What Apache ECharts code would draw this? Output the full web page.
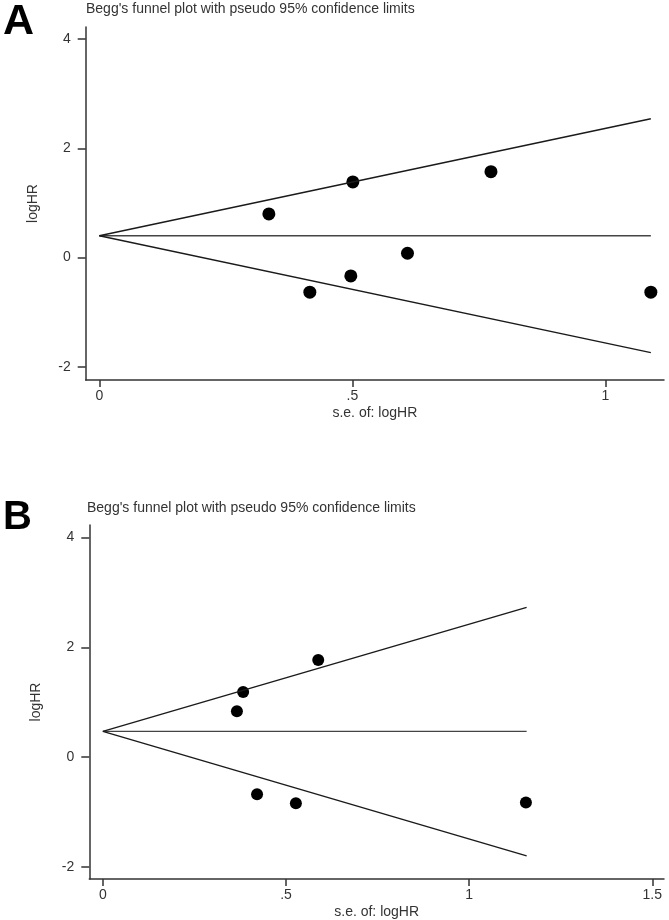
<!DOCTYPE html>
<html>
<head>
<meta charset="utf-8">
<script src="https://cdn.jsdelivr.net/npm/echarts@6/dist/echarts.min.js"></script>
<style>
html,body{margin:0;padding:0;background:#fff;}
#chart{width:669px;height:920px;}
</style>
</head>
<body>
<div id="chart"></div>
<script>
// ---- Data ----
const panelLabels = ['A', 'B'];
const titleText = "Begg's funnel plot with pseudo 95% confidence limits";
const xAxisTitle = 's.e. of: logHR';
const yAxisTitle = 'logHR';

// Panel A studies
const seA = [0.335, 0.416, 0.497, 0.501, 0.609, 0.774, 1.090];
const logHRA = [0.80, -0.633, -0.335, 1.384, 0.080, 1.572, -0.633];
// Panel A pooled estimate and funnel limits (endpoints)
const pooledA = [[0, 0.40], [1.090, 0.40]];
const upperA = [[0, 0.40], [1.090, 2.54]];
const lowerA = [[0, 0.40], [1.090, -1.74]];
const xTicksA = [0, 0.5, 1];

// Panel B studies
const seB = [0.366, 0.383, 0.421, 0.527, 0.588, 1.155];
const logHRB = [0.838, 1.189, -0.674, -0.838, 1.772, -0.827];
const pooledB = [[0, 0.47], [1.157, 0.47]];
const upperB = [[0, 0.47], [1.157, 2.73]];
const lowerB = [[0, 0.47], [1.157, -1.80]];
const xTicksB = [0, 0.5, 1, 1.5];

const yTicks = [-2, 0, 2, 4];

// ---- Chart ----
const FONT = "'Liberation Sans', Arial, sans-serif";
const TXT = '#333';
const AX = '#333';

function fmtX(v) {
  const s = String(+v.toFixed(2));
  return s.replace(/^0\./, '.');
}

function xAxisCfg(gridIndex, min, max, ticks) {
  return {
    type: 'value', gridIndex, min, max,
    name: xAxisTitle, nameLocation: 'middle', nameGap: 26,
    nameTextStyle: { fontFamily: FONT, fontSize: 14, color: TXT },
    axisLine: { show: true, onZero: false, lineStyle: { color: AX, width: 1.5 } },
    axisTick: { show: true, customValues: ticks, length: 7, lineStyle: { color: AX, width: 1.5 } },
    axisLabel: { customValues: ticks, formatter: fmtX, margin: 9, fontFamily: FONT, fontSize: 14, color: TXT },
    splitLine: { show: false }
  };
}
function yAxisCfg(gridIndex, min, max) {
  return {
    type: 'value', gridIndex, min, max,
    name: yAxisTitle, nameLocation: 'middle', nameGap: 46, nameRotate: 90,
    nameTextStyle: { fontFamily: FONT, fontSize: 14, color: TXT },
    axisLine: { show: true, onZero: false, lineStyle: { color: AX, width: 1.5 } },
    axisTick: { show: true, customValues: yTicks, length: 8, lineStyle: { color: AX, width: 1.5 } },
    axisLabel: { customValues: yTicks, margin: 15, fontFamily: FONT, fontSize: 14, color: TXT },
    splitLine: { show: false }
  };
}
function lineSeries(xi, data, color) {
  return {
    type: 'line', xAxisIndex: xi, yAxisIndex: xi, data,
    symbol: 'none', silent: true, animation: false,
    lineStyle: { color, width: 1.4 }
  };
}
function scatterSeries(xi, xs, ys, size) {
  return {
    type: 'scatter', xAxisIndex: xi, yAxisIndex: xi,
    data: xs.map((x, i) => [x, ys[i]]),
    symbol: 'circle', symbolSize: size, animation: false,
    itemStyle: { color: '#000', opacity: 1 }
  };
}

const chart = echarts.init(document.getElementById('chart'), null, { renderer: 'canvas' });
chart.setOption({
  backgroundColor: '#fff',
  animation: false,
  grid: [
    { left: 85.7, top: 27, width: 578.3, height: 353 },
    { left: 89.3, top: 525, width: 574.7, height: 354 }
  ],
  xAxis: [
    xAxisCfg(0, -0.027, 1.116, xTicksA),
    xAxisCfg(1, -0.037, 1.532, xTicksB)
  ],
  yAxis: [
    yAxisCfg(0, -2.24, 4.22),
    yAxisCfg(1, -2.22, 4.23)
  ],
  series: [
    lineSeries(0, pooledA, '#444'),
    lineSeries(0, upperA, '#1a1a1a'),
    lineSeries(0, lowerA, '#1a1a1a'),
    scatterSeries(0, seA, logHRA, 13),
    lineSeries(1, pooledB, '#444'),
    lineSeries(1, upperB, '#1a1a1a'),
    lineSeries(1, lowerB, '#1a1a1a'),
    scatterSeries(1, seB, logHRB, 12)
  ],
  graphic: [
    { type: 'text', left: 3, top: 1, style: { text: panelLabels[0], font: "bold 43px 'Liberation Sans', Arial, sans-serif", fill: '#000' } },
    { type: 'text', left: 3, top: 498, style: { text: panelLabels[1], font: "bold 40px 'Liberation Sans', Arial, sans-serif", fill: '#000' } },
    { type: 'text', left: 86, top: 2, style: { text: titleText, font: "14px 'Liberation Sans', Arial, sans-serif", fill: TXT } },
    { type: 'text', left: 87, top: 501, style: { text: titleText, font: "14px 'Liberation Sans', Arial, sans-serif", fill: TXT } }
  ]
});
</script>
</body>
</html>
